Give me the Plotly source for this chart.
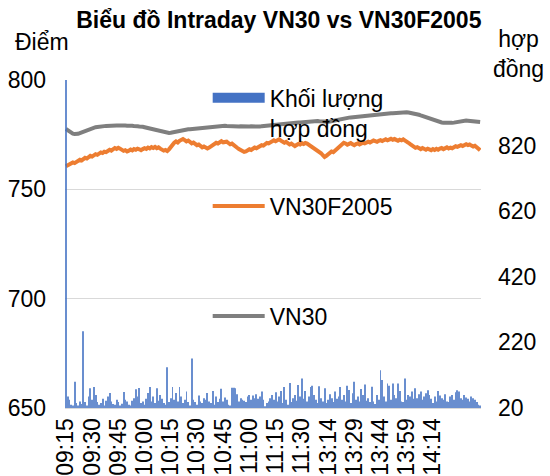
import pandas as pd
import plotly.graph_objects as go

# ---- categories (one per minute of trading) ----
morning = list(pd.date_range("2020-05-08 09:15", "2020-05-08 11:30", freq="min").strftime("%H:%M"))
afternoon = list(pd.date_range("2020-05-08 13:00", "2020-05-08 14:41", freq="min").strftime("%H:%M"))
times = morning + afternoon
tick_labels = ["09:15", "09:30", "09:45", "10:00", "10:15", "10:30", "10:45", "11:00",
               "11:15", "11:30", "13:14", "13:29", "13:44", "13:59", "14:14"]

vn30 = [
    777.6, 777.0, 776.3, 775.8, 775.5, 775.3, 775.2, 775.4, 775.7, 776.0,
    776.3, 776.8, 777.2, 777.5, 777.8, 778.0, 778.2, 778.4, 778.5, 778.7,
    778.8, 778.9, 778.9, 779.0, 779.1, 779.1, 779.0, 779.2, 779.1, 779.2,
    779.2, 779.3, 779.2, 779.3, 779.2, 779.1, 779.2, 779.0, 779.1, 778.9,
    779.0, 778.8, 778.7, 778.8, 778.6, 778.4, 778.2, 778.0, 777.8, 777.6,
    777.4, 777.2, 777.0, 776.8, 776.6, 776.4, 776.2, 776.0, 775.9, 775.8,
    775.9, 776.1, 776.3, 776.5, 776.7, 776.9, 777.0, 777.2, 777.3, 777.4,
    777.5, 777.5, 777.6, 777.5, 777.7, 777.8, 777.9, 778.0, 778.1, 778.2,
    778.3, 778.4, 778.5, 778.5, 778.6, 778.7, 778.8, 778.9, 779.0, 779.0,
    779.1, 779.1, 779.0, 778.9, 779.0, 778.9, 778.8, 778.9, 778.8, 778.7,
    778.8, 778.7, 778.6, 778.7, 778.6, 778.7, 778.8, 778.7, 778.8, 778.9,
    778.8, 778.7, 778.9, 779.0, 779.1, 779.2, 779.3, 779.4, 779.5, 779.5,
    779.6, 779.7, 779.8, 779.9, 780.0, 780.0, 780.1, 780.2, 780.2, 780.3,
    780.4, 780.4, 780.5, 780.6, 780.6, 780.7, 780.8, 780.8, 780.9, 781.0,
    781.0, 781.1, 781.1, 781.2, 781.2, 781.1, 781.0, 780.9, 780.8, 780.8,
    780.9, 781.0, 781.2, 781.4, 781.6, 781.8, 782.0, 782.1, 782.3, 782.4,
    782.6, 782.7, 782.8, 782.9, 783.0, 783.1, 783.1, 783.2, 783.3, 783.3,
    783.4, 783.5, 783.5, 783.6, 783.7, 783.8, 783.9, 784.0, 784.1, 784.2,
    784.3, 784.4, 784.5, 784.5, 784.6, 784.7, 784.8, 784.8, 784.9, 785.0,
    785.0, 785.1, 785.1, 785.0, 785.1, 785.2, 785.1, 785.0, 784.9, 784.7,
    784.5, 784.3, 784.1, 783.8, 783.5, 783.2, 782.9, 782.6, 782.3, 782.0,
    781.8, 781.5, 781.3, 781.0, 780.8, 780.6, 780.5, 780.4, 780.3, 780.3,
    780.3, 780.4, 780.5, 780.7, 780.9, 781.1, 781.3, 781.4, 781.5, 781.5,
    781.4, 781.3, 781.2, 781.1, 781.0, 780.9, 780.8, 780.8,
]

vn30f2005 = [
    760.5, 761.0, 761.4, 761.8, 762.3, 762.0, 762.6, 763.1, 763.5, 763.2,
    763.9, 764.4, 764.1, 764.8, 765.3, 765.0, 765.6, 766.1, 765.8, 766.4,
    766.9, 766.6, 767.2, 767.0, 767.6, 768.1, 767.7, 768.4, 768.9, 768.5,
    769.0, 768.6, 768.0, 767.6, 767.9, 767.3, 767.7, 768.2, 767.8, 768.4,
    768.1, 768.6, 768.3, 767.9, 768.4, 768.8, 768.5, 769.1, 768.7, 769.3,
    768.9, 769.4, 768.8, 769.2, 768.6, 768.1, 767.7, 768.0, 767.5, 768.3,
    769.4, 770.5, 771.3, 771.9, 771.4, 772.2, 772.8, 773.0, 772.5, 771.9,
    772.3, 771.6, 771.0, 771.4, 770.7, 770.2, 770.5, 769.8, 769.2, 769.6,
    769.0, 768.7, 769.1, 769.6, 770.2, 770.8, 771.3, 771.0, 771.6, 772.0,
    771.5, 771.9, 771.8, 771.2, 770.6, 770.9, 770.1, 769.5, 769.0, 768.4,
    767.9, 767.5, 767.1, 767.3, 767.8, 768.3, 768.0, 768.6, 769.1, 768.8,
    769.4, 769.7, 770.2, 770.0, 770.7, 771.2, 771.0, 771.6, 772.1, 772.4,
    772.0, 772.6, 772.9, 772.3, 771.8, 771.3, 771.7, 771.0, 770.5, 770.9,
    770.2, 769.8, 770.3, 770.8, 770.5, 771.1, 770.7, 771.2, 770.9, 770.4,
    769.8, 769.2, 768.8, 768.3, 767.9, 767.2, 766.5, 765.6, 764.8, 765.3,
    766.0, 766.6, 767.3, 767.0, 767.8, 768.5, 769.3, 770.1, 770.8, 771.3,
    771.0, 770.4, 770.8, 771.2, 770.6, 770.2, 770.7, 771.0, 770.5, 770.9,
    771.3, 771.0, 771.5, 771.8, 771.4, 771.9, 772.3, 772.0, 771.7, 772.2,
    772.5, 772.1, 772.6, 772.9, 772.4, 772.8, 773.1, 772.7, 773.0, 772.6,
    772.2, 772.7, 772.4, 772.9, 772.5, 771.9, 771.3, 770.7, 770.0, 769.5,
    769.0, 769.3, 768.8, 768.4, 768.9, 768.5, 768.1, 768.6, 768.2, 767.9,
    768.4, 768.0, 768.5, 768.1, 768.6, 768.9, 768.4, 768.8, 769.2, 768.7,
    769.1, 768.8, 769.3, 769.7, 769.4, 769.9, 770.2, 769.8, 770.3, 770.6,
    770.2, 770.5, 770.0, 769.6, 769.9, 769.2, 768.4, 767.9,
]

volume = [
    1500, 55, 45, 30, 28, 100, 35, 28, 40, 32,
    254, 38, 28, 55, 80, 45, 84, 60, 38, 30,
    35, 48, 28, 42, 55, 66, 40, 32, 30, 45,
    38, 28, 33, 69, 45, 40, 30, 28, 42, 50,
    77, 55, 81, 35, 40, 30, 48, 66, 84, 40,
    55, 35, 80, 42, 60, 48, 35, 30, 144, 38,
    50, 84, 45, 66, 40, 84, 55, 35, 45, 70,
    38, 28, 171, 45, 38, 30, 58, 40, 35, 50,
    45, 66, 40, 35, 72, 30, 55, 38, 48, 79,
    40, 52, 45, 30, 28, 82, 82, 80, 62, 40,
    50, 45, 42, 38, 55, 60, 45, 58, 50, 62,
    48, 55, 70, 45, 25, 35, 40, 50, 60, 45,
    68, 40, 55, 72, 35, 84, 45, 30, 96, 38,
    50, 60, 42, 90, 55, 110, 48, 72, 40, 55,
    84, 88, 60, 45, 35, 86, 50, 40, 80, 35,
    45, 62, 50, 38, 70, 48, 55, 84, 45, 60,
    40, 88, 75, 35, 65, 100, 45, 55, 40, 78,
    60, 92, 42, 50, 38, 85, 40, 32, 60, 45,
    135, 105, 55, 40, 95, 88, 45, 95, 60, 50,
    95, 72, 40, 38, 110, 45, 60, 55, 70, 48,
    80, 50, 62, 70, 45, 55, 65, 74, 60, 48,
    35, 55, 40, 72, 58, 50, 45, 62, 40, 38,
    55, 60, 45, 68, 74, 70, 50, 45, 60, 52,
    48, 40, 55, 50, 45, 38, 30, 28,
]

left_ticks = [650, 700, 750, 800]
right_ticks = [20, 220, 420, 620, 820]

FONT = "Arial, Liberation Sans, sans-serif"
BLUE = "#4472C4"
ORANGE = "#ED7D31"
GRAY = "#7F7F7F"

fig = go.Figure()
fig.add_trace(go.Bar(
    x=times, y=volume, name="Khối lượng<br>hợp đồng", yaxis="y2",
    marker=dict(color=BLUE, line=dict(width=0)), opacity=0.8, showlegend=False,
))
# legend swatch for the volume bars (wide rectangle as in the original)
fig.add_trace(go.Scatter(
    x=[None], y=[None], name="Khối lượng<br>hợp đồng", mode="lines",
    line=dict(color=BLUE, width=12), legend="legend", hoverinfo="skip",
))
fig.add_trace(go.Scatter(
    x=times, y=vn30f2005, name="VN30F2005", mode="lines",
    line=dict(color=ORANGE, width=4), legend="legend2",
))
fig.add_trace(go.Scatter(
    x=times, y=vn30, name="VN30", mode="lines",
    line=dict(color=GRAY, width=4), legend="legend3",
))

legend_common = dict(xanchor="left", yanchor="middle", bgcolor="rgba(0,0,0,0)",
                     font=dict(family=FONT, size=23, color="#000"), itemwidth=52)

fig.update_layout(
    width=550, height=476,
    margin=dict(l=65, r=69, t=80, b=68),
    paper_bgcolor="white", plot_bgcolor="white",
    font=dict(family=FONT, color="#000"),
    title=dict(text="<b>Biểu đồ Intraday VN30 vs VN30F2005</b>",
               font=dict(family=FONT, size=23, color="#000"),
               x=0.507, xanchor="center", y=0.958, yanchor="middle"),
    bargap=0.45,
    showlegend=True,
    legend=dict(x=0.343, y=0.9, valign="top", **legend_common),
    legend2=dict(x=0.343, y=0.616, **legend_common),
    legend3=dict(x=0.343, y=0.28, **legend_common),
    xaxis=dict(type="category", categoryorder="array", categoryarray=times,
               tickmode="array", tickvals=tick_labels, ticktext=tick_labels,
               tickangle=-90, tickfont=dict(family=FONT, size=23, color="#000"),
               showgrid=False, showline=True, linecolor="#D9D9D9", linewidth=1,
               ticks="", automargin=False),
    yaxis=dict(range=[650, 800], tickvals=left_ticks,
               tickfont=dict(family=FONT, size=23, color="#000"),
               showgrid=True, gridcolor="#D9D9D9", gridwidth=1, zeroline=False,
               ticks="", ticklabelstandoff=18, automargin=False),
    yaxis2=dict(range=[20, 1020], tickvals=right_ticks, overlaying="y", side="right",
                tickfont=dict(family=FONT, size=23, color="#000"),
                showgrid=False, zeroline=False, ticks="",
                ticklabelstandoff=16, automargin=False),
    annotations=[
        dict(text="Điểm", xref="paper", yref="paper", x=-0.055, y=1.116,
             xanchor="center", yanchor="middle", showarrow=False,
             font=dict(family=FONT, size=23, color="#000")),
        dict(text="hợp<br>đồng", xref="paper", yref="paper", x=1.091, y=1.08,
             xanchor="center", yanchor="middle", showarrow=False,
             font=dict(family=FONT, size=23, color="#000")),
    ],
)

fig.write_html("out.html", config={"displayModeBar": False},
               post_script="document.body.style.margin='0';")
